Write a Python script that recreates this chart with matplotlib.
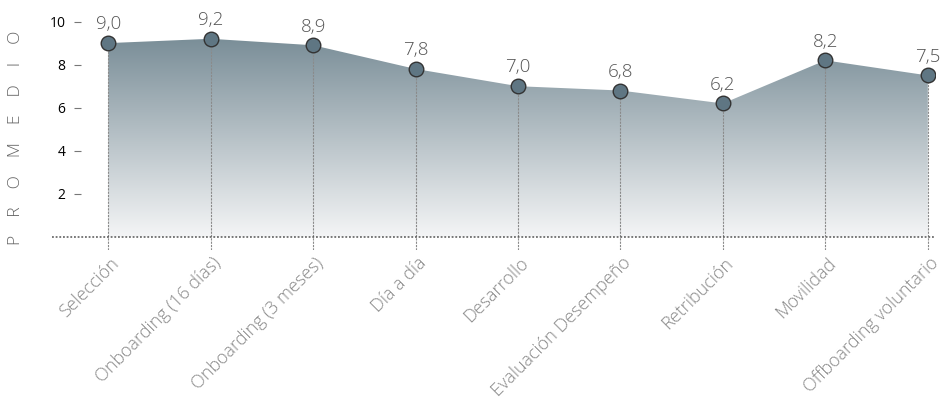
import numpy as np
import matplotlib
matplotlib.use("Agg")
from matplotlib import pyplot as plt
from matplotlib.colors import LinearSegmentedColormap
from matplotlib.patches import Polygon

plt.rcParams["font.family"] = ["Open Sans", "DejaVu Sans"]

categories = [
    "Selección", "Onboarding (16 días)", "Onboarding (3 meses)", "Día a día",
    "Desarrollo", "Evaluación Desempeño", "Retribución", "Movilidad",
    "Offboarding voluntario",
]
values = [9.0, 9.2, 8.9, 7.8, 7.0, 6.8, 6.2, 8.2, 7.5]
y_ticks = [2, 4, 6, 8, 10]

fig = plt.figure(figsize=(9.43, 4.16), dpi=100)
ax = fig.add_axes([0.0551, 0.399, 0.9364, 0.601])

xs = np.arange(len(values))
ax.set_xlim(-0.55, len(values) - 1 + 0.07)
ax.set_ylim(-0.6, 11.0)

# gradient fill under the line
poly = Polygon(
    np.column_stack([np.r_[xs[0], xs, xs[-1]], np.r_[0, values, 0]]),
    closed=True, facecolor="none", edgecolor="none",
)
ax.add_patch(poly)
cmap = LinearSegmentedColormap.from_list("g", ["#f4f5f6", "#7a8e98"])
grad = np.linspace(0, 1, 256).reshape(-1, 1)
im = ax.imshow(
    grad, cmap=cmap, aspect="auto", origin="lower",
    extent=(xs[0], xs[-1], 0, max(values)), zorder=1,
)
im.set_clip_path(poly)

# vertical drop lines
ax.vlines(xs, -0.6, values, colors="#8a8a8a", linestyles=(0, (2, 1)),
          linewidth=0.8, zorder=2)

# baseline
ax.axhline(0, color="#555555", linestyle=(0, (1.2, 1.2)), linewidth=1.1,
           zorder=3)

ax.scatter(xs, values, s=110, facecolor="#5f7683", edgecolor="#333333",
           linewidth=1.0, zorder=4)

for x, v in zip(xs, values):
    ax.annotate(f"{v:.1f}".replace(".", ","), (x, v), xytext=(0, 7),
                textcoords="offset points", ha="center", va="bottom",
                fontsize=13.5, color="#555555", fontweight="light")

for spine in ax.spines.values():
    spine.set_visible(False)

ax.set_xticks([])
ax.set_yticks(y_ticks)
ax.set_yticklabels([str(t) for t in y_ticks], fontsize=8, color="#777777")
ax.spines["left"].set_position(("data", -0.27))
ax.tick_params(axis="y", length=5, width=0.8, color="#777777", pad=6)

for x, label in zip(xs, categories):
    ax.annotate(label, (x, -0.6), xytext=(1, -3), textcoords="offset points",
                ha="right", va="top", rotation=45, rotation_mode="anchor",
                fontsize=13, color="#888888", fontweight="light",
                annotation_clip=False)

fig.text(0.017, 0.668, "P    R    O    M    E    D    I    O", rotation=90,
         ha="center", va="center", fontsize=12.5, color="#666666",
         fontweight="light")

fig.savefig("out.png", dpi=100)
